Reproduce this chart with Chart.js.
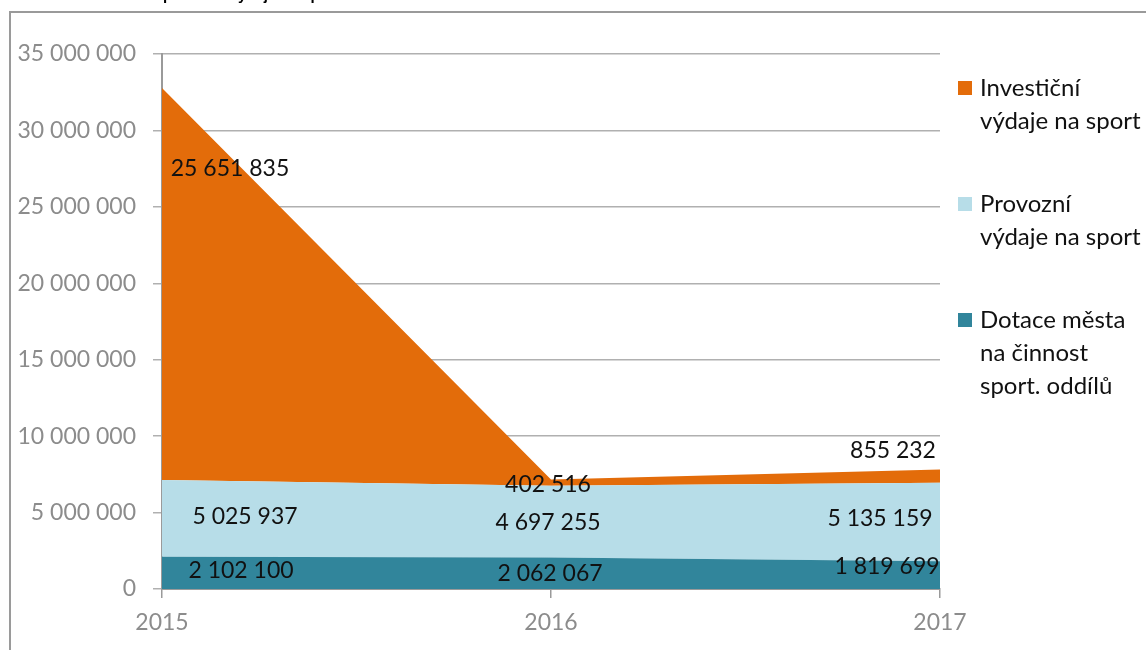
<!DOCTYPE html>
<html>
<head>
<meta charset="utf-8">
<script src="https://cdn.jsdelivr.net/npm/chart.js@4.4.1/dist/chart.umd.min.js"></script>
<style>
  body { margin: 0; background: #fff; overflow: hidden; }
  #frame {
    position: absolute; left: 9px; top: 11px; width: 1300px; height: 800px;
    border-left: 2px solid #9a9a9a; border-top: 2px solid #9a9a9a;
  }
  #myChart { position: absolute; left: 0; top: 0; }
</style>
</head>
<body>
<div id="frame"></div>
<canvas id="myChart" width="1146" height="650"></canvas>
<script>
const years = ['2015', '2016', '2017'];
const dotace = [2102100, 2062067, 1819699];
const provozni = [5025937, 4697255, 5135159];
const investicni = [25651835, 402516, 855232];

const seriesNames = [
  ['Dotace města', 'na činnost', 'sport. oddílů'],
  ['Provozní', 'výdaje na sport'],
  ['Investiční', 'výdaje na sport']
];
const title = 'Graf 1: Investiční a provozní výdaje na sport v letech 2015 – 2017';

// where excel left the data labels (pixel shift from the middle of the band)
const labelShift = [
  [[79, -2], [-1, 0], [-53, -9]],
  [[83, -2], [-3, 1], [-60, -3]],
  [[68, -115], [-3, 2], [-47, -26]]
];

const FONT = 'Lato';

function fmt(v) {
  return String(v).replace(/\B(?=(\d{3})+(?!\d))/g, ' ');
}

const extras = {
  id: 'extras',
  afterDatasetsDraw(chart) {
    const ctx = chart.ctx;
    ctx.save();
    ctx.font = '23px ' + FONT;
    ctx.fillStyle = '#111';
    ctx.textAlign = 'center';
    ctx.textBaseline = 'middle';
    chart.data.datasets.forEach(function (ds, i) {
      var meta = chart.getDatasetMeta(i);
      var prev = i > 0 ? chart.getDatasetMeta(i - 1) : null;
      meta.data.forEach(function (pt, j) {
        var base = prev ? prev.data[j].y : chart.scales.y.getPixelForValue(0);
        var sh = labelShift[i][j];
        ctx.fillText(fmt(ds.data[j]), pt.x + sh[0], (pt.y + base) / 2 + sh[1]);
      });
    });
    ctx.restore();
  },
  afterDraw(chart) {
    const ctx = chart.ctx;
    ctx.save();
    // legend, top entry is the top band
    ctx.font = '24px ' + FONT;
    ctx.textAlign = 'left';
    ctx.textBaseline = 'middle';
    var tops = [88, 204, 320];
    var n = chart.data.datasets.length;
    for (var k = 0; k < n; k++) {
      var ds = chart.data.datasets[n - 1 - k];
      var lines = seriesNames[n - 1 - k];
      ctx.fillStyle = ds.backgroundColor;
      ctx.fillRect(958, tops[k] - 7, 14, 14);
      ctx.fillStyle = '#111';
      lines.forEach(function (l, m) {
        ctx.fillText(l, 980, tops[k] + m * 33);
      });
    }
    // title, cut off by the top of the picture
    ctx.font = 'bold 15px "Liberation Sans"';
    ctx.fillStyle = '#000';
    ctx.textBaseline = 'alphabetic';
    var pre = title.slice(0, title.indexOf('provozní'));
    ctx.fillText(title, 163 - ctx.measureText(pre).width, 0);
    ctx.restore();
  }
};

const data = {
  labels: years,
  datasets: [
    {
      label: seriesNames[0].join(' '),
      data: dotace,
      backgroundColor: 'rgb(49, 133, 155)',
      fill: 'origin'
    },
    {
      label: seriesNames[1].join(' '),
      data: provozni,
      backgroundColor: 'rgb(183, 221, 232)',
      fill: '-1'
    },
    {
      label: seriesNames[2].join(' '),
      data: investicni,
      backgroundColor: 'rgb(227, 108, 10)',
      fill: '-1'
    }
  ]
};

const config = {
  type: 'line',
  data: data,
  options: {
    responsive: false,
    animation: false,
    devicePixelRatio: 1,
    elements: {
      line: { borderWidth: 0, tension: 0 },
      point: { radius: 0 }
    },
    layout: { padding: { top: 54, right: 206, left: 0, bottom: 0 } },
    plugins: {
      legend: { display: false },
      tooltip: { enabled: false }
    },
    scales: {
      x: {
        offset: false,
        grid: { drawOnChartArea: false, color: '#9a9a9a', tickLength: 9, lineWidth: 1.5 },
        border: { color: '#9a9a9a', width: 2 },
        ticks: { color: '#8c8c8c', font: { family: FONT, size: 23 }, padding: 11, maxRotation: 0 },
        afterFit(scale) { scale.height = 61; }
      },
      y: {
        stacked: true,
        min: 0,
        max: 35000000,
        grid: { color: '#b0b0b0', tickLength: 9, lineWidth: 1.5 },
        border: { color: '#9a9a9a', width: 2 },
        ticks: {
          stepSize: 5000000,
          color: '#8c8c8c',
          font: { family: FONT, size: 23 },
          padding: 17,
          callback: function (v) { return fmt(v); }
        },
        afterFit(scale) { scale.width = 162; }
      }
    }
  },
  plugins: [extras]
};

var myChart = new Chart(document.getElementById('myChart'), config);
</script>
</body>
</html>
